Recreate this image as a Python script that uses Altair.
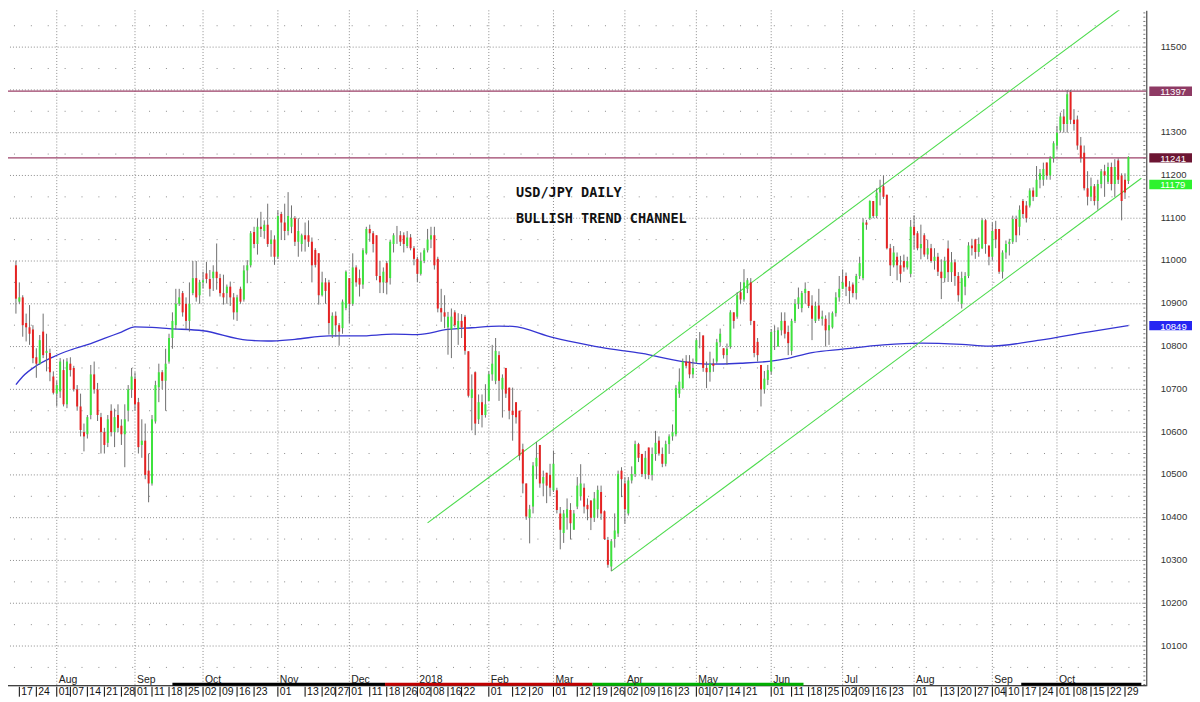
import altair as alt
import pandas as pd

# ---------------- data ----------------
# trading-day index of the first bar (index 0 = Mon 10 Jul 2017, US holidays skipped)
FIRST = 4

opens = [
    10990, 10905, 10915, 10855, 10845, 10840, 10775, 10760, 10835, 10785,
    10785, 10730, 10690, 10695, 10745, 10665, 10760, 10750, 10700, 10660,
    10600, 10595, 10640, 10735, 10700, 10635, 10600, 10575, 10650, 10600,
    10640, 10615, 10595, 10650, 10700, 10725, 10670, 10570, 10580, 10510,
    10480, 10625, 10705, 10740, 10720, 10765, 10820, 10850, 10900, 10925,
    10900, 10860, 10925, 10960, 10920, 10950, 10971, 10958, 10960, 10975,
    10960, 10925, 10925, 10940, 10915, 10880, 10935, 10910, 10978, 10990,
    11068, 11040, 11080, 11070, 11085, 11040, 11050, 11010, 11110, 11090,
    11070, 11080, 11100, 11045, 11040, 11060, 11060, 11045, 11026, 11018,
    10920, 10950, 10950, 10828, 10872, 10850, 10843, 10890, 10960, 10900,
    10985, 10960, 10945, 11018, 11075, 11065, 11060, 10965, 10950, 10995,
    10960, 11040, 11060, 11060, 11060, 11035, 11055, 11030, 11005, 10970,
    11000, 11025, 11050, 11060, 11005, 10890, 10880, 10845, 10840, 10880,
    10840, 10860, 10870, 10789, 10680, 10740, 10630, 10670, 10640, 10673,
    10735, 10720, 10780, 10700, 10750, 10704, 10650, 10670, 10650, 10560,
    10480, 10400, 10426, 10520, 10570, 10480, 10505, 10500, 10464, 10464,
    10410, 10364, 10400, 10418, 10372, 10426, 10450, 10470, 10430, 10440,
    10400, 10420, 10460, 10415, 10348, 10286, 10350, 10363, 10510, 10480,
    10410, 10487, 10502, 10572, 10549, 10502, 10564, 10500, 10549, 10580,
    10549, 10526, 10572, 10590, 10595, 10690, 10703, 10765, 10765, 10735,
    10765, 10815, 10826, 10750, 10740, 10760, 10765, 10810, 10796, 10780,
    10800, 10880, 10870, 10927, 10910, 10935, 10950, 10860, 10811, 10757,
    10700, 10722, 10742, 10834, 10800, 10838, 10860, 10834, 10790, 10860,
    10900, 10890, 10925, 10930, 10896, 10860, 10896, 10865, 10865, 10838,
    10845, 10878, 10915, 10935, 10965, 10940, 10945, 10925, 10965, 10960,
    11090, 11100, 11140, 11105, 11160, 11175, 11155, 11030, 10990, 11010,
    10990, 11000, 10985, 10970, 11080, 11065, 11030, 11060, 11015, 11030,
    11000, 11010, 10975, 10960, 11029, 10974, 10997, 10965, 10900, 10940,
    10965, 11036, 11050, 11021, 11030, 11095, 11036, 11010, 11075, 11075,
    10975, 11020, 11040, 11045, 11098, 11080, 11140, 11130, 11130, 11165,
    11150, 11190, 11190, 11230, 11200, 11240, 11270, 11305, 11338, 11320,
    11395, 11330, 11331, 11270, 11253, 11170, 11150, 11175, 11140, 11180,
    11210, 11185, 11220, 11180, 11235, 11200, 11190, 11187,
]

highs = [
    11001, 10950, 10920, 10877, 10897, 10850, 10796, 10827, 10877, 10830,
    10795, 10742, 10720, 10773, 10770, 10773, 10775, 10755, 10710, 10690,
    10620, 10640, 10757, 10765, 10715, 10645, 10610, 10640, 10665, 10655,
    10665, 10630, 10665, 10710, 10750, 10740, 10680, 10630, 10620, 10550,
    10640, 10720, 10760, 10745, 10795, 10830, 10880, 10935, 10935, 10930,
    10915, 10950, 11000, 11000, 10956, 10975, 10998, 10979, 10990, 11041,
    10970, 10968, 10945, 10952, 10925, 10921, 10940, 10990, 11002, 11070,
    11080, 11100, 11115, 11095, 11134, 11072, 11060, 11118, 11115, 11134,
    11161, 11130, 11105, 11100, 11064, 11090, 11095, 11055, 11030, 11018,
    10975, 10960, 10956, 10880, 10882, 10855, 10910, 10978, 10960, 11018,
    10990, 10980, 11030, 11080, 11085, 11070, 11060, 11000, 10985, 11000,
    11050, 11065, 11082, 11070, 11067, 11070, 11063, 11035, 11010, 11020,
    11030, 11075, 11080, 11080, 11010, 10935, 10920, 10881, 10889, 10885,
    10878, 10876, 10874, 10789, 10735, 10742, 10688, 10688, 10712, 10742,
    10804, 10820, 10789, 10735, 10750, 10704, 10704, 10670, 10650, 10573,
    10480, 10430, 10530, 10577, 10570, 10510, 10505, 10526, 10557, 10470,
    10425, 10418, 10445, 10434, 10418, 10495, 10525, 10480, 10445, 10441,
    10460, 10475, 10475, 10417, 10355, 10350, 10410, 10510, 10518, 10495,
    10495, 10520, 10580, 10575, 10549, 10556, 10564, 10564, 10603, 10590,
    10564, 10580, 10595, 10618, 10710, 10749, 10772, 10780, 10780, 10772,
    10819, 10834, 10826, 10765, 10788, 10772, 10818, 10842, 10796, 10807,
    10885, 10880, 10927, 10950, 10981, 10960, 10960, 10860, 10820, 10757,
    10743, 10757, 10841, 10849, 10845, 10880, 10880, 10849, 10865, 10911,
    10938, 10930, 10950, 10930, 10920, 10905, 10935, 10884, 10873, 10880,
    10882, 10927, 10965, 10980, 10973, 10953, 10950, 10970, 11010, 11100,
    11096, 11142, 11140, 11170, 11190, 11200, 11155, 11040, 11035, 11020,
    11012, 11015, 11010, 11096, 11107, 11070, 11085, 11065, 11050, 11040,
    11030, 11019, 11004, 11010, 11048, 11021, 11004, 10974, 10975, 10974,
    11044, 11052, 11052, 11055, 11100, 11098, 11036, 11090, 11094, 11075,
    11025, 11048, 11052, 11106, 11106, 11130, 11145, 11140, 11170, 11172,
    11222, 11215, 11230, 11230, 11245, 11280, 11316, 11347, 11355, 11400,
    11400, 11355, 11340, 11290, 11270, 11210, 11195, 11180, 11190, 11215,
    11225, 11230, 11230, 11238, 11240, 11205, 11205, 11245,
]

lows = [
    10877, 10900, 10823, 10812, 10804, 10761, 10727, 10757, 10773, 10742,
    10719, 10688, 10660, 10680, 10660, 10656, 10730, 10695, 10650, 10590,
    10555, 10585, 10630, 10690, 10626, 10550, 10550, 10565, 10590, 10565,
    10600, 10570, 10518, 10625, 10680, 10650, 10550, 10540, 10490, 10436,
    10475, 10620, 10670, 10700, 10650, 10760, 10795, 10840, 10895, 10870,
    10840, 10835, 10920, 10905, 10900, 10936, 10948, 10917, 10930, 10933,
    10917, 10898, 10900, 10895, 10863, 10860, 10900, 10905, 10948, 10985,
    11030, 11015, 11056, 11052, 11033, 11010, 10991, 11005, 11049, 11049,
    11060, 11065, 11035, 11010, 11022, 11022, 11033, 10950, 10985, 10898,
    10917, 10900, 10828, 10820, 10823, 10802, 10830, 10885, 10855, 10895,
    10940, 10917, 10935, 11015, 11045, 11020, 10955, 10925, 10925, 10922,
    10945, 11020, 11040, 11035, 11020, 11030, 11025, 10990, 10951, 10966,
    10995, 11020, 11030, 10980, 10880, 10858, 10843, 10781, 10773, 10845,
    10804, 10820, 10781, 10681, 10604, 10593, 10619, 10611, 10634, 10673,
    10720, 10712, 10673, 10634, 10680, 10630, 10580, 10620, 10534, 10457,
    10395, 10340, 10410, 10490, 10470, 10450, 10434, 10450, 10460, 10410,
    10326, 10341, 10372, 10349, 10372, 10420, 10440, 10410, 10394, 10371,
    10390, 10400, 10395, 10348, 10283, 10275, 10330, 10355, 10448, 10386,
    10405, 10480, 10495, 10530, 10495, 10490, 10490, 10487, 10533, 10545,
    10518, 10520, 10549, 10580, 10590, 10680, 10700, 10749, 10726, 10726,
    10760, 10796, 10741, 10703, 10718, 10741, 10760, 10800, 10772, 10757,
    10795, 10842, 10865, 10900, 10905, 10925, 10850, 10775, 10765, 10660,
    10690, 10710, 10735, 10792, 10800, 10826, 10819, 10780, 10780, 10855,
    10888, 10880, 10900, 10890, 10815, 10855, 10860, 10849, 10800, 10804,
    10842, 10870, 10905, 10934, 10918, 10900, 10915, 10910, 10958, 10955,
    11073, 11096, 11100, 11100, 11130, 11145, 11027, 10965, 10985, 10955,
    10950, 10975, 10980, 10962, 11027, 11025, 11004, 11010, 11004, 10996,
    10980, 10965, 10911, 10950, 10951, 10951, 10942, 10905, 10889, 10920,
    10960, 11013, 11005, 11010, 11028, 11017, 10990, 11001, 11030, 10970,
    10959, 11005, 11013, 11040, 11044, 11060, 11100, 11090, 11125, 11140,
    11150, 11170, 11176, 11190, 11190, 11230, 11260, 11300, 11300, 11300,
    11320, 11305, 11260, 11230, 11165, 11130, 11140, 11130, 11120, 11170,
    11150, 11180, 11165, 11150, 11180, 11095, 11145, 11180,
]

closes = [
    10912, 10915, 10850, 10845, 10830, 10773, 10760, 10815, 10780, 10790,
    10740, 10692, 10710, 10765, 10665, 10765, 10745, 10700, 10660, 10605,
    10590, 10635, 10735, 10700, 10640, 10600, 10570, 10630, 10600, 10635,
    10610, 10595, 10630, 10700, 10730, 10665, 10565, 10580, 10500, 10480,
    10630, 10710, 10740, 10720, 10760, 10820, 10860, 10900, 10915, 10880,
    10860, 10900, 10960, 10915, 10950, 10955, 10958, 10935, 10975, 10960,
    10925, 10915, 10940, 10915, 10880, 10915, 10905, 10978, 10990, 11065,
    11040, 11080, 11075, 11085, 11040, 11050, 11010, 11105, 11090, 11070,
    11105, 11100, 11045, 11070, 11060, 11050, 11045, 10990, 10991, 10920,
    10950, 10930, 10855, 10872, 10850, 10835, 10905, 10975, 10900, 10985,
    10950, 10945, 11025, 11075, 11065, 11040, 10965, 10950, 10975, 10950,
    11045, 11060, 11060, 11045, 11040, 11055, 11030, 11005, 10970, 11000,
    11025, 11050, 11060, 10990, 10889, 10880, 10870, 10870, 10870, 10850,
    10860, 10845, 10790, 10685, 10700, 10620, 10670, 10640, 10665, 10735,
    10760, 10790, 10720, 10727, 10690, 10650, 10640, 10635, 10545, 10480,
    10403, 10420, 10522, 10540, 10480, 10495, 10475, 10470, 10526, 10418,
    10372, 10410, 10420, 10387, 10410, 10475, 10480, 10426, 10420, 10400,
    10445, 10465, 10410, 10350, 10290, 10345, 10370, 10502, 10490, 10420,
    10487, 10502, 10572, 10540, 10502, 10540, 10500, 10549, 10575, 10550,
    10526, 10572, 10590, 10600, 10703, 10718, 10765, 10755, 10735, 10750,
    10815, 10815, 10750, 10740, 10760, 10755, 10810, 10830, 10780, 10795,
    10880, 10860, 10920, 10910, 10950, 10955, 10860, 10785, 10780, 10700,
    10725, 10745, 10834, 10835, 10838, 10860, 10830, 10808, 10860, 10900,
    10915, 10925, 10935, 10895, 10865, 10895, 10865, 10870, 10838, 10850,
    10878, 10915, 10935, 10950, 10940, 10930, 10925, 10965, 10995, 11090,
    11085, 11140, 11105, 11160, 11170, 11150, 11030, 10990, 11020, 10990,
    10970, 10985, 11000, 11080, 11060, 11030, 11040, 11015, 11030, 11000,
    11010, 10975, 10960, 11000, 10974, 10997, 10965, 10920, 10960, 10965,
    11036, 11030, 11021, 11040, 11095, 11040, 11010, 11070, 11050, 10975,
    11020, 11040, 11045, 11098, 11060, 11120, 11110, 11100, 11165, 11150,
    11190, 11205, 11215, 11200, 11240, 11275, 11300, 11338, 11320, 11390,
    11330, 11320, 11270, 11240, 11170, 11150, 11175, 11140, 11180, 11210,
    11200, 11220, 11180, 11220, 11190, 11140, 11160, 11243,
]

# 200-day moving average, read at points along the blue line
ma_idx = [4, 6, 10, 15, 20, 26, 30, 35, 39, 44, 49, 59, 72, 78, 86, 96, 105, 115,
          122, 131, 138, 146, 150, 162, 172, 176, 188, 200, 207, 217, 227, 230,
          238, 247, 259, 270, 282, 290, 305, 319, 331]
ma_val = [10711, 10730, 10755, 10776, 10792, 10807, 10819, 10834, 10846, 10845,
          10842, 10837, 10815, 10813, 10817, 10825, 10825, 10829, 10828, 10840,
          10844, 10848, 10847, 10821, 10804, 10798, 10784, 10765, 10759, 10761,
          10767, 10771, 10786, 10794, 10804, 10808, 10805, 10801, 10815, 10834,
          10849]

# trend channel (start index, start price, end index, end price)
chan_x1 = [125, 179]
chan_y1 = [10388, 10275]
chan_x2 = [331, 334.8]
chan_y2 = [11603, 11193.6]

res_levels = [11397, 11241]

box_levels = [11397, 11241, 11179, 10849]
box_text = ["11397", "11241", "11179", "10849"]
box_colors = ["#8e3a64", "#6c1533", "#2ef22e", "#2626f2"]

month_idx = [16, 39, 59, 81, 102, 122, 143, 162, 183, 204, 226, 247, 268, 291, 310]
month_txt = ["Aug", "Sep", "Oct", "Nov", "Dec", "2018", "Feb", "Mar", "Apr",
             "May", "Jun", "Jul", "Aug", "Sep", "Oct"]

date_idx = [5, 10, 16, 20, 25, 30, 35, 39, 44, 49, 54, 59, 64, 69, 74, 81, 89, 94,
            98, 102, 108, 113, 118, 122, 126, 131, 135, 143, 150, 155, 162, 169,
            174, 179, 183, 188, 193, 198, 204, 208, 213, 218, 226, 232, 237, 242,
            247, 251, 256, 261, 268, 276, 281, 286, 291, 295, 300, 305, 310, 315,
            320, 325, 330]
date_txt = ["17", "24", "01", "07", "14", "21", "28", "01", "11", "18", "25", "02",
            "09", "16", "23", "01", "13", "20", "27", "01", "11", "18", "26", "02",
            "08", "16", "22", "01", "12", "20", "01", "12", "19", "26", "02", "09",
            "16", "23", "01", "07", "14", "21", "01", "11", "18", "25", "02", "09",
            "16", "23", "01", "13", "20", "27", "04", "10", "17", "24", "01", "08",
            "15", "22", "29"]

# contract strips along the bottom edge
seg_start = [50, 112.5, 173.5, 299.5]
seg_end = [112.5, 173.5, 235.5, 334.8]
seg_color = ["#000000", "#c00000", "#00b000", "#000000"]

note_x = [151, 151]
note_y = [11158, 11097]
note_txt = ["USD/JPY DAILY", "BULLISH TREND CHANNEL"]

# ---------------- chart ----------------
W, H = 1146, 680
xs = alt.Scale(domain=[3.13, 334.8], nice=False, zero=False)
ys = alt.Scale(domain=[10007.1, 11586.0], nice=False, zero=False)

major = list(range(10100, 11600, 100))
minor = list(range(10050, 11600, 100))
axis_ticks = list(range(10010, 11590, 10))
label_vals = [v for v in major if v != 11400]

yaxis = alt.Axis(orient="right", values=label_vals, format="d", grid=False, ticks=False,
                 domain=True, domainColor="#222222", domainWidth=1, labelPadding=14,
                 labelFont="Liberation Sans", labelFontSize=9.6, labelColor="#333333",
                 labelBaseline="middle", labelOverlap=False, labelOffset=-1, title=None)


def X(f):
    return alt.X(f"{f}:Q", scale=xs, axis=None)


def Y(f):
    return alt.Y(f"{f}:Q", scale=ys, axis=yaxis)


n = len(closes)
bars = pd.DataFrame({"i": list(range(FIRST, FIRST + n)), "o": opens,
                     "h": highs, "l": lows, "c": closes})
bars["col"] = ["#3ee23e" if c >= o else "#e62222" for o, c in zip(opens, closes)]

grid_col = "#8c8c8c"

vgrid = alt.Chart(pd.DataFrame({"m": month_idx})).mark_rule(
    color=grid_col, strokeDash=[1, 2], strokeWidth=1).encode(x=X("m"))
hgrid = alt.Chart(pd.DataFrame({"v": major})).mark_rule(
    color=grid_col, strokeDash=[1, 2], strokeWidth=1).encode(y=Y("v"))
mgrid = alt.Chart(pd.DataFrame({"v": minor})).mark_rule(
    color=grid_col, strokeDash=[1, 16], strokeWidth=1).encode(y=Y("v"))

res = alt.Chart(pd.DataFrame({"v": res_levels})).mark_rule(
    color="#9c4068", strokeWidth=1.3).encode(y=Y("v"))

ma = alt.Chart(pd.DataFrame({"i": ma_idx, "v": ma_val})).mark_line(
    color="#3535d2", strokeWidth=1.3, interpolate="monotone", clip=True).encode(
    x=X("i"), y=Y("v"))

chan = alt.Chart(pd.DataFrame({"x1": chan_x1, "y1": chan_y1, "x2": chan_x2, "y2": chan_y2})).mark_rule(
    color="#4ddb4d", strokeWidth=1.1, clip=True).encode(
    x=X("x1"), y=Y("y1"), x2="x2:Q", y2="y2:Q")

wicks = alt.Chart(bars).mark_rule(color="#6f6f6f", strokeWidth=1, clip=True).encode(
    x=X("i"), y=Y("l"), y2="h:Q")

bodies = alt.Chart(bars).mark_bar(width=2, clip=True).encode(
    x=X("i"), y=Y("o"), y2="c:Q", color=alt.Color("col:N", scale=None))

notes = alt.Chart(pd.DataFrame({"x": note_x, "y": note_y, "t": note_txt})).mark_text(
    font="DejaVu Sans Mono", fontSize=13.6, fontWeight="bold", align="left",
    baseline="middle", color="#111111").encode(x=X("x"), y=Y("y"), text="t:N")

aticks = alt.Chart(pd.DataFrame({"v": axis_ticks})).mark_rule(
    color="#7a7a7a", strokeWidth=1).encode(
    y=Y("v"), x=alt.value(W - 3), x2=alt.value(W - 1))

bdf = pd.DataFrame({"v": box_levels, "t": box_text, "col": box_colors})
bdf["lo"] = bdf["v"] - 11.0
bdf["hi"] = bdf["v"] + 11.0
boxes = alt.Chart(bdf).mark_rect().encode(
    y=Y("lo"), y2="hi:Q", x=alt.value(W + 3), x2=alt.value(W + 46),
    color=alt.Color("col:N", scale=None))
box_lbl = alt.Chart(bdf).mark_text(
    align="left", baseline="middle", color="white", font="Liberation Sans",
    fontSize=9.6, dy=1).encode(y=Y("v"), x=alt.value(W + 14), text="t:N")

base_line = alt.Chart(pd.DataFrame({"a": [0]})).mark_rule(color="#000000", strokeWidth=1).encode(
    x=alt.value(0), x2=alt.value(W), y=alt.value(H))

segs = alt.Chart(pd.DataFrame({"s": seg_start, "e": seg_end, "col": seg_color})).mark_rule(
    strokeWidth=3).encode(x=X("s"), x2="e:Q", y=alt.value(H - 1.5),
                          color=alt.Color("col:N", scale=None))

months = alt.Chart(pd.DataFrame({"m": month_idx, "t": month_txt})).mark_text(
    align="left", baseline="middle", dx=2, font="Liberation Sans", fontSize=10.5,
    color="#222222").encode(x=X("m"), y=alt.value(H - 6), text="t:N")

dticks = alt.Chart(pd.DataFrame({"d": date_idx})).mark_rule(color="#000000", strokeWidth=1).encode(
    x=X("d"), y=alt.value(H + 1), y2=alt.value(H + 11))

dlabels = alt.Chart(pd.DataFrame({"d": date_idx, "t": date_txt})).mark_text(
    align="left", baseline="middle", dx=2, font="Liberation Sans", fontSize=10.5,
    color="#111111").encode(x=X("d"), y=alt.value(H + 6.5), text="t:N")

chart = alt.layer(
    vgrid, hgrid, mgrid, res, ma, chan, wicks, bodies, notes, aticks,
    boxes, box_lbl, base_line, segs, months, dticks, dlabels
).properties(
    width=W, height=H,
    autosize=alt.AutoSizeParams(type="none"),
    padding={"left": 0, "top": 0, "right": 46, "bottom": 14},
    background="white",
).configure_view(stroke=None)

chart.save("out.html", embed_options={"renderer": "svg", "actions": False})
